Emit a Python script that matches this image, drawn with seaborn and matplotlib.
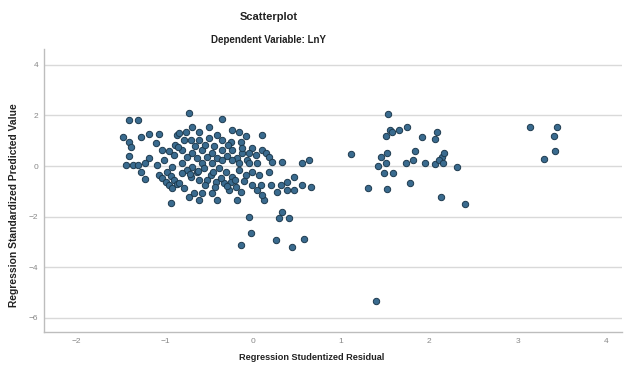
import numpy as np
import pandas as pd
import matplotlib
matplotlib.use("Agg")
import matplotlib.pyplot as plt
import seaborn as sns

# studentized residual (x) / standardized predicted value (y)
main_x = [-1.41, -1.31, -1.47, -1.41, -1.38, -1.27, -1.18, -1.07, -1.10, -1.03,
          -1.41, -1.18, -1.44, -1.36, -1.30, -1.23, -1.27, -1.22, -1.07, -1.03,
          -0.99, -0.95, -0.92, -0.98, -0.93, -0.90, -0.86, -0.93, -0.88, -0.90,
          -0.92, -0.86, -1.01, -1.09,
          -0.73, -0.35, -0.84, -0.76, -0.69, -0.61, -0.50, -0.41, -0.24, -0.16,
          -0.08, -0.78, -0.70, -0.61, -0.50, -0.35, -0.25, -0.14, -0.01, -0.81,
          -0.69, -0.58, -0.47, -0.35, -0.24, -0.13, -0.05, 0.03, -0.75, -0.64,
          -0.52, -0.41, -0.30, -0.18, -0.07, -0.81, -0.69, -0.58, -0.47, -0.35,
          -0.24, -0.16, -0.05, 0.05, -0.75, -0.64, -0.56, -0.48, -0.39, -0.31,
          -0.24, -0.16, -0.08, -0.01, 0.07, -0.81, -0.70, -0.61, -0.52, -0.42,
          -0.33, -0.25, -0.19, -0.14, -0.01, 0.05, -0.84, -0.78, -0.73, -0.67,
          -0.58, -0.47, -0.61, -0.41, -0.27, -0.18, 0.13, 0.10,
          -0.66, -0.55, -0.44, -0.28, -0.12, -0.72, -0.62, -0.45, -0.36, -0.20,
          -0.95, -0.85, -0.54, -0.43, -0.30, -0.10]
main_y = [1.82, 1.82, 1.15, 0.95, 0.75, 1.15, 1.26, 1.26, 0.91, 0.63,
          0.40, 0.32, 0.04, 0.04, 0.04, 0.12, -0.24, -0.51, -0.36, -0.47,
          -0.63, -0.75, -0.87, -0.24, -0.40, -0.55, -0.71, -1.46, 0.83, 0.43,
          -0.04, 1.23, 0.24, 0.04,
          2.09, 1.86, 1.30, 1.34, 1.54, 1.34, 1.54, 1.23, 1.42, 1.34,
          1.19, 1.03, 1.03, 1.03, 1.11, 1.03, 0.95, 0.95, 0.71, 0.63,
          0.51, 0.63, 0.51, 0.63, 0.63, 0.51, 0.51, 0.43, 0.36, 0.32,
          0.36, 0.32, 0.40, 0.32, 0.24, 0.12, -0.04, 0.12, 0.12, 0.24,
          0.24, 0.12, 0.12, 0.12, -0.16, -0.24, -0.08, -0.36, -0.08, -0.24,
          -0.43, -0.16, -0.36, -0.24, -0.36, -0.28, -0.43, -0.55, -0.55, -0.63,
          -0.67, -0.63, -0.83, -1.03, -0.75, -0.95, -0.67, -0.87, -1.23, -1.07,
          -1.07, -1.07, -1.34, -1.34, -0.95, -1.34, -1.34, -1.15,
          0.80, 0.85, 0.78, 0.82, 0.72, -0.30, -0.20, -0.22, -0.47, -0.55,
          0.58, 0.76, -0.76, -0.84, -0.80, -0.58]

edge_x = [0.10, 0.10, 0.15, 0.18, 0.22, 0.33, 0.56, 0.64, 0.18, 0.09,
          0.20, 0.27, 0.32, 0.39, 0.47, 0.38, 0.47, 0.55, 0.66, -0.05,
          -0.02, -0.14, 0.33, 0.30, 0.41, 0.26, 0.44, 0.58]
edge_y = [1.23, 0.63, 0.51, 0.36, 0.16, 0.16, 0.12, 0.24, -0.24, -0.75,
          -0.75, -1.03, -0.75, -0.63, -0.43, -0.95, -0.95, -0.75, -0.83, -2.02,
          -2.65, -3.12, -1.82, -2.06, -2.06, -2.92, -3.20, -2.89]

right_x = [1.11, 1.30, 1.53, 1.55, 1.51, 1.58, 1.66, 1.75, 1.92, 2.06,
           2.09, 1.52, 1.45, 1.51, 1.42, 1.49, 1.59, 1.74, 1.81, 1.84,
           1.95, 2.06, 2.14, 2.17, 2.11, 2.15, 2.31, 1.78, 1.52, 2.13,
           2.40, 1.39]
right_y = [0.47, -0.87, 2.06, 1.42, 1.19, 1.34, 1.42, 1.54, 1.15, 1.07,
           1.34, 0.51, 0.36, 0.12, 0.00, -0.28, -0.28, 0.12, 0.24, 0.59,
           0.12, 0.08, 0.36, 0.51, 0.24, 0.12, -0.04, -0.67, -0.91, -1.23,
           -1.50, -5.34]

far_x = [3.14, 3.45, 3.41, 3.43, 3.30]
far_y = [1.54, 1.54, 1.19, 0.59, 0.28]

x_ticks = [-2, -1, 0, 1, 2, 3, 4]
y_ticks = [-6, -4, -2, 0, 2, 4]

df = pd.DataFrame({
    "resid": main_x + edge_x + right_x + far_x,
    "pred": main_y + edge_y + right_y + far_y,
})

sns.set_style("white")
plt.rcParams["font.family"] = ["Liberation Sans", "DejaVu Sans"]

fig = plt.figure(figsize=(6.24, 3.69), dpi=100)
ax = fig.add_axes([0.070, 0.100, 0.926, 0.767])

sns.scatterplot(data=df, x="resid", y="pred", ax=ax, s=21,
                color="#3a6b8f", edgecolor="#1d3a4e", linewidth=0.7, zorder=3)

ax.set_xlim(-2.375, 4.18)
ax.set_ylim(-6.56, 4.62)
ax.set_xticks(x_ticks)
ax.set_yticks(y_ticks)
ax.yaxis.grid(True, color="#d9d9d9", linewidth=1.0)
ax.xaxis.grid(False)
ax.set_axisbelow(True)
for side in ["top", "right"]:
    ax.spines[side].set_visible(False)
for side in ["left", "bottom"]:
    ax.spines[side].set_color("#bdbdbd")
    ax.spines[side].set_linewidth(1.0)
ax.tick_params(axis="both", labelsize=6, colors="#888888", length=0, pad=4)

ax.set_xlabel("Regression Studentized Residual", fontsize=6.6, fontweight="bold",
              color="#222222")
ax.set_ylabel("Regression Standardized Predicted Value", fontsize=7.4,
              fontweight="bold", color="#222222")
ax.xaxis.set_label_coords(0.463, -0.075)
ax.yaxis.set_label_coords(-0.043, 0.45)

fig.text(0.43, 1 - 22 / 369, "Scatterplot", ha="center", va="bottom",
         fontsize=8, fontweight="bold", color="#222222")
fig.text(0.43, 1 - 40 / 369, "Dependent Variable: LnY", ha="center", va="center",
         fontsize=7, fontweight="bold", color="#222222")

fig.savefig("out.png", dpi=100)
